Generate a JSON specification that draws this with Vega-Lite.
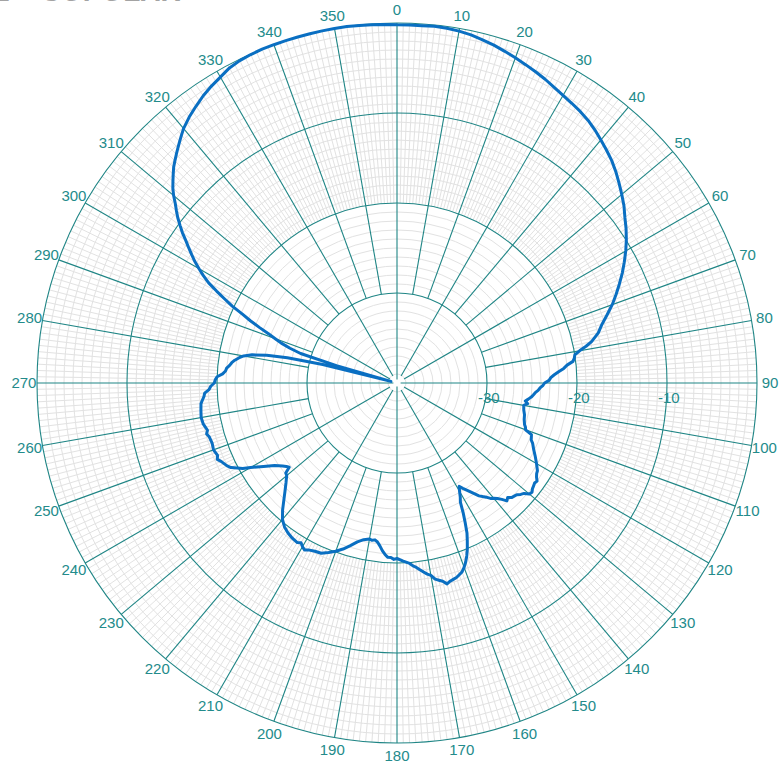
{
  "$schema": "https://vega.github.io/schema/vega-lite/v6.json",
  "width": 720,
  "height": 720,
  "autosize": {"type": "none"},
  "padding": {"left": 37, "top": 23, "right": 26, "bottom": 25},
  "title": {"text": "E – COPOLAR", "anchor": "start", "frame": "group", "orient": "top", "offset": 0, "dy": 26, "baseline": "alphabetic", "dx": -46, "fontSize": 28, "fontWeight": "bold", "color": "#a3a3a3", "font": "Liberation Sans"},
  "config": {"view": {"stroke": null}},
  "datasets": {
    "deg": [0,1,2,3,4,5,6,7,8,9,10,11,12,13,14,15,16,17,18,19,20,21,22,23,24,25,26,27,28,29,30,31,32,33,34,35,36,37,38,39,40,41,42,43,44,45,46,47,48,49,50,51,52,53,54,55,56,57,58,59,60,61,62,63,64,65,66,67,68,69,70,71,72,73,74,75,76,77,78,79,80,81,82,83,84,85,86,87,88,89,90,91,92,93,94,95,96,97,98,99,100,101,102,103,104,105,106,107,108,109,110,111,112,113,114,115,116,117,118,119,120,121,122,123,124,125,126,127,128,129,130,131,132,133,134,135,136,137,138,139,140,141,142,143,144,145,146,147,148,149,150,151,152,153,154,155,156,157,158,159,160,161,162,163,164,165,166,167,168,169,170,171,172,173,174,175,176,177,178,179,180,181,182,183,184,185,186,187,188,189,190,191,192,193,194,195,196,197,198,199,200,201,202,203,204,205,206,207,208,209,210,211,212,213,214,215,216,217,218,219,220,221,222,223,224,225,226,227,228,229,230,231,232,233,234,235,236,237,238,239,240,241,242,243,244,245,246,247,248,249,250,251,252,253,254,255,256,257,258,259,260,261,262,263,264,265,266,267,268,269,270,271,272,273,274,275,276,277,278,279,280,281,282,283,284,285,286,287,288,289,290,291,292,293,294,295,296,297,298,299,300,301,302,303,304,305,306,307,308,309,310,311,312,313,314,315,316,317,318,319,320,321,322,323,324,325,326,327,328,329,330,331,332,333,334,335,336,337,338,339,340,341,342,343,344,345,346,347,348,349,350,351,352,353,354,355,356,357,358,359],
    "trace": [
      {"a":0,"db":-0.2},{"a":2,"db":-0.2},{"a":4,"db":-0.2},{"a":6,"db":-0.15},{"a":8,"db":-0.2},{"a":10,"db":-0.3},{"a":12,"db":-0.45},{"a":14,"db":-0.7},{"a":16,"db":-0.95},{"a":18,"db":-1.25},{"a":20,"db":-1.55},{"a":22,"db":-1.85},{"a":24,"db":-2.15},{"a":26,"db":-2.45},{"a":28,"db":-2.8},{"a":30,"db":-3.1},{"a":32,"db":-3.35},{"a":34,"db":-3.6},{"a":36,"db":-3.9},{"a":38,"db":-4.3},{"a":40,"db":-4.75},{"a":42,"db":-5.2},{"a":44,"db":-5.65},{"a":46,"db":-6.2},{"a":48,"db":-6.8},{"a":50,"db":-7.4},{"a":52,"db":-8.0},{"a":54,"db":-8.7},{"a":56,"db":-9.3},{"a":58,"db":-9.95},{"a":60,"db":-10.65},{"a":62,"db":-11.4},{"a":64,"db":-12.15},{"a":66,"db":-12.95},{"a":68,"db":-13.75},{"a":70,"db":-14.55},{"a":72,"db":-15.45},{"a":74,"db":-16.3},{"a":76,"db":-16.95},{"a":78,"db":-17.9},{"a":79,"db":-18.6},{"a":80,"db":-19.4},{"a":81,"db":-20.0},{"a":82,"db":-20.1},{"a":83,"db":-20.3},{"a":84,"db":-21.0},{"a":85,"db":-21.4},{"a":86,"db":-22.0},{"a":87,"db":-22.5},{"a":88,"db":-22.9},{"a":89,"db":-23.1},{"a":90,"db":-23.6},{"a":91,"db":-23.8},{"a":92,"db":-24.1},{"a":93,"db":-24.3},{"a":94,"db":-24.6},{"a":95,"db":-24.8},{"a":96,"db":-25.0},{"a":97,"db":-25.3},{"a":98,"db":-25.6},{"a":99,"db":-25.3},{"a":100,"db":-25.7},{"a":102,"db":-25.6},{"a":104,"db":-25.4},{"a":106,"db":-25.3},{"a":108,"db":-25.1},{"a":109,"db":-24.9},{"a":110,"db":-24.8},{"a":111,"db":-24.0},{"a":112,"db":-23.9},{"a":113,"db":-23.8},{"a":114,"db":-23.5},{"a":116,"db":-23.1},{"a":118,"db":-22.6},{"a":120,"db":-22.1},{"a":122,"db":-21.6},{"a":123,"db":-21.5},{"a":124,"db":-21.3},{"a":125,"db":-21.0},{"a":126,"db":-21.1},{"a":127,"db":-21.0},{"a":128,"db":-20.9},{"a":129,"db":-20.7},{"a":130,"db":-20.8},{"a":131,"db":-21.3},{"a":132,"db":-21.5},{"a":133,"db":-21.8},{"a":134,"db":-21.9},{"a":135,"db":-22.0},{"a":136,"db":-22.3},{"a":137,"db":-22.1},{"a":138,"db":-22.6},{"a":139,"db":-23.0},{"a":140,"db":-23.3},{"a":141,"db":-23.5},{"a":142,"db":-23.9},{"a":143,"db":-24.2},{"a":144,"db":-24.5},{"a":146,"db":-25.4},{"a":148,"db":-26.2},{"a":149,"db":-26.6},{"a":150,"db":-26.1},{"a":151,"db":-25.5},{"a":152,"db":-25.0},{"a":153,"db":-23.8},{"a":154,"db":-22.7},{"a":155,"db":-21.6},{"a":156,"db":-20.8},{"a":157,"db":-20.0},{"a":158,"db":-19.3},{"a":159,"db":-18.7},{"a":160,"db":-18.2},{"a":161,"db":-17.8},{"a":162,"db":-17.6},{"a":163,"db":-17.4},{"a":164,"db":-17.3},{"a":165,"db":-17.2},{"a":166,"db":-17.0},{"a":167,"db":-17.4},{"a":168,"db":-17.6},{"a":169,"db":-17.8},{"a":170,"db":-18.3},{"a":171,"db":-18.5},{"a":172,"db":-18.8},{"a":173,"db":-19.1},{"a":174,"db":-19.4},{"a":175,"db":-19.6},{"a":176,"db":-19.9},{"a":178,"db":-20.2},{"a":180,"db":-20.5},{"a":181,"db":-20.4},{"a":182,"db":-20.6},{"a":183,"db":-20.6},{"a":184,"db":-20.9},{"a":185,"db":-21.3},{"a":186,"db":-21.8},{"a":187,"db":-22.2},{"a":188,"db":-22.4},{"a":189,"db":-22.3},{"a":190,"db":-22.4},{"a":192,"db":-22.2},{"a":194,"db":-21.8},{"a":196,"db":-21.2},{"a":198,"db":-20.6},{"a":200,"db":-20.1},{"a":202,"db":-19.7},{"a":204,"db":-19.3},{"a":206,"db":-19.2},{"a":208,"db":-19.0},{"a":209,"db":-18.8},{"a":210,"db":-19.0},{"a":211,"db":-19.3},{"a":212,"db":-19.1},{"a":214,"db":-19.2},{"a":216,"db":-19.4},{"a":218,"db":-19.7},{"a":220,"db":-20.2},{"a":222,"db":-21.0},{"a":224,"db":-21.9},{"a":226,"db":-22.7},{"a":228,"db":-23.4},{"a":230,"db":-24.0},{"a":231,"db":-24.1},{"a":232,"db":-24.8},{"a":233,"db":-24.6},{"a":234,"db":-24.3},{"a":236,"db":-23.6},{"a":238,"db":-22.5},{"a":240,"db":-21.2},{"a":241,"db":-20.4},{"a":242,"db":-19.9},{"a":243,"db":-19.3},{"a":244,"db":-19.0},{"a":246,"db":-18.6},{"a":247,"db":-18.3},{"a":248,"db":-18.5},{"a":250,"db":-18.3},{"a":252,"db":-18.4},{"a":254,"db":-18.3},{"a":255,"db":-18.1},{"a":256,"db":-18.3},{"a":258,"db":-18.0},{"a":260,"db":-17.9},{"a":262,"db":-18.0},{"a":264,"db":-18.1},{"a":265,"db":-18.3},{"a":266,"db":-18.5},{"a":267,"db":-18.6},{"a":268,"db":-19.1},{"a":269,"db":-19.3},{"a":270,"db":-19.7},{"a":271,"db":-19.8},{"a":272,"db":-20.0},{"a":273,"db":-20.6},{"a":274,"db":-20.9},{"a":275,"db":-21.0},{"a":276,"db":-21.3},{"a":277,"db":-21.5},{"a":278,"db":-21.8},{"a":279,"db":-22.2},{"a":280,"db":-22.7},{"a":281,"db":-23.6},{"a":282,"db":-25.2},{"a":283,"db":-27.5},{"a":284,"db":-31.5},{"a":285,"db":-39.3},{"a":286,"db":-33.0},{"a":287,"db":-28.8},{"a":288,"db":-27.5},{"a":289,"db":-26.4},{"a":290,"db":-25.6},{"a":291,"db":-24.7},{"a":292,"db":-23.5},{"a":293,"db":-22.3},{"a":294,"db":-21.2},{"a":295,"db":-19.8},{"a":296,"db":-18.7},{"a":297,"db":-17.5},{"a":298,"db":-16.3},{"a":299,"db":-15.4},{"a":300,"db":-14.6},{"a":301,"db":-13.8},{"a":302,"db":-13.1},{"a":303,"db":-12.4},{"a":304,"db":-11.7},{"a":305,"db":-10.9},{"a":306,"db":-10.2},{"a":307,"db":-9.5},{"a":308,"db":-8.9},{"a":309,"db":-8.3},{"a":310,"db":-7.6},{"a":311,"db":-7.0},{"a":312,"db":-6.5},{"a":313,"db":-6.0},{"a":314,"db":-5.5},{"a":315,"db":-5.1},{"a":316,"db":-4.7},{"a":317,"db":-4.3},{"a":318,"db":-3.9},{"a":319,"db":-3.5},{"a":320,"db":-3.1},{"a":322,"db":-2.5},{"a":324,"db":-2.0},{"a":326,"db":-1.5},{"a":328,"db":-1.1},{"a":330,"db":-0.75},{"a":332,"db":-0.35},{"a":334,"db":-0.15},{"a":336,"db":-0.05},{"a":338,"db":0},{"a":340,"db":0},{"a":342,"db":0},{"a":344,"db":0},{"a":346,"db":0},{"a":348,"db":0},{"a":350,"db":0},{"a":352,"db":0},{"a":354,"db":-0.05},{"a":356,"db":-0.1},{"a":358,"db":-0.15},{"a":360,"db":-0.2}
    ]
  },
  "layer": [
    {
      "data": {"values": [-39,-38,-37,-36,-35,-34,-33,-32,-31,-29,-28,-27,-26,-25,-24,-23,-22,-21,-19,-18,-17,-16,-15,-14,-13,-12,-11,-9,-8,-7,-6,-5,-4,-3,-2,-1]},
      "transform": [{"calculate": "datum.data + 40", "as": "u"}],
      "mark": {"type": "arc", "theta": 0, "theta2": 6.2832, "filled": false, "stroke": "#e2e2e2", "strokeWidth": 1},
      "encoding": {"radius": {"field": "u", "type": "quantitative", "stack": null, "scale": {"type": "linear", "domain": [0, 40], "range": [0, 360], "zero": true}}}
    },
    {
      "data": {"name": "deg"},
      "transform": [
        {"filter": "datum.data % 10 != 0"},
        {"calculate": "datum.data * PI / 180", "as": "rad"},
        {"calculate": "20 * sin(datum.rad)", "as": "x1"},
        {"calculate": "20 * cos(datum.rad)", "as": "y1"},
        {"calculate": "40 * sin(datum.rad)", "as": "x2"},
        {"calculate": "40 * cos(datum.rad)", "as": "y2"}
      ],
      "mark": {"type": "rule", "stroke": "#e2e2e2", "strokeWidth": 1},
      "encoding": {
        "x": {"field": "x1", "type": "quantitative", "scale": {"domain": [-40, 40]}, "axis": null},
        "y": {"field": "y1", "type": "quantitative", "scale": {"domain": [-40, 40]}, "axis": null},
        "x2": {"field": "x2"},
        "y2": {"field": "y2"}
      }
    },
    {
      "data": {"values": [-30, -20, -10, 0]},
      "transform": [{"calculate": "datum.data + 40", "as": "u"}],
      "mark": {"type": "arc", "theta": 0, "theta2": 6.2832, "filled": false, "stroke": "#1f8585", "strokeWidth": 1.1},
      "encoding": {"radius": {"field": "u", "type": "quantitative", "stack": null, "scale": {"type": "linear", "domain": [0, 40], "range": [0, 360], "zero": true}}}
    },
    {
      "data": {"name": "deg"},
      "transform": [
        {"filter": "datum.data % 10 == 0"},
        {"calculate": "datum.data * PI / 180", "as": "rad"},
        {"calculate": "datum.data % 90 == 0 ? 0.4 : (datum.data % 30 == 0 ? 0.9 : 10)", "as": "r0"},
        {"calculate": "datum.r0 * sin(datum.rad)", "as": "x1"},
        {"calculate": "datum.r0 * cos(datum.rad)", "as": "y1"},
        {"calculate": "40 * sin(datum.rad)", "as": "x2"},
        {"calculate": "40 * cos(datum.rad)", "as": "y2"}
      ],
      "mark": {"type": "rule", "stroke": "#1f8585", "strokeWidth": 1.1},
      "encoding": {
        "x": {"field": "x1", "type": "quantitative", "scale": {"domain": [-40, 40]}, "axis": null},
        "y": {"field": "y1", "type": "quantitative", "scale": {"domain": [-40, 40]}, "axis": null},
        "x2": {"field": "x2"},
        "y2": {"field": "y2"}
      }
    },
    {
      "data": {"name": "deg"},
      "transform": [
        {"filter": "datum.data % 10 == 0"},
        {"calculate": "datum.data * PI / 180", "as": "rad"},
        {"calculate": "41.45 * sin(datum.rad)", "as": "lx"},
        {"calculate": "41.45 * cos(datum.rad)", "as": "ly"}
      ],
      "mark": {"type": "text", "align": "center", "baseline": "middle", "font": "Liberation Sans", "fontSize": 15, "color": "#238b8b"},
      "encoding": {
        "x": {"field": "lx", "type": "quantitative", "scale": {"domain": [-40, 40]}, "axis": null},
        "y": {"field": "ly", "type": "quantitative", "scale": {"domain": [-40, 40]}, "axis": null},
        "text": {"field": "data", "type": "quantitative", "format": "d"}
      }
    },
    {
      "data": {"values": [-30, -20, -10]},
      "transform": [{"calculate": "datum.data + 40.2", "as": "u"}],
      "mark": {"type": "text", "align": "center", "baseline": "middle", "font": "Liberation Sans", "fontSize": 15, "color": "#238b8b"},
      "encoding": {
        "x": {"field": "u", "type": "quantitative", "scale": {"domain": [-40, 40]}, "axis": null},
        "y": {"datum": -1.67, "type": "quantitative", "scale": {"domain": [-40, 40]}, "axis": null},
        "text": {"field": "data", "type": "nominal"}
      }
    },
    {
      "mark": {"type": "text", "text": "dB", "align": "center", "baseline": "middle", "font": "Liberation Sans", "fontSize": 15, "color": "#238b8b"},
      "encoding": {
        "x": {"datum": 36.1, "type": "quantitative", "scale": {"domain": [-40, 40]}, "axis": null},
        "y": {"datum": -3.2, "type": "quantitative", "scale": {"domain": [-40, 40]}, "axis": null}
      }
    },
    {
      "data": {"name": "trace"},
      "transform": [
        {"calculate": "datum.a * PI / 180", "as": "rad"},
        {"calculate": "(datum.db + 40) * sin(datum.rad)", "as": "px"},
        {"calculate": "(datum.db + 40) * cos(datum.rad)", "as": "py"}
      ],
      "mark": {"type": "line", "stroke": "#0a6fc2", "strokeWidth": 3, "strokeJoin": "round"},
      "encoding": {
        "x": {"field": "px", "type": "quantitative", "scale": {"domain": [-40, 40]}, "axis": null},
        "y": {"field": "py", "type": "quantitative", "scale": {"domain": [-40, 40]}, "axis": null},
        "order": {"field": "a", "type": "quantitative"}
      }
    }
  ]
}
